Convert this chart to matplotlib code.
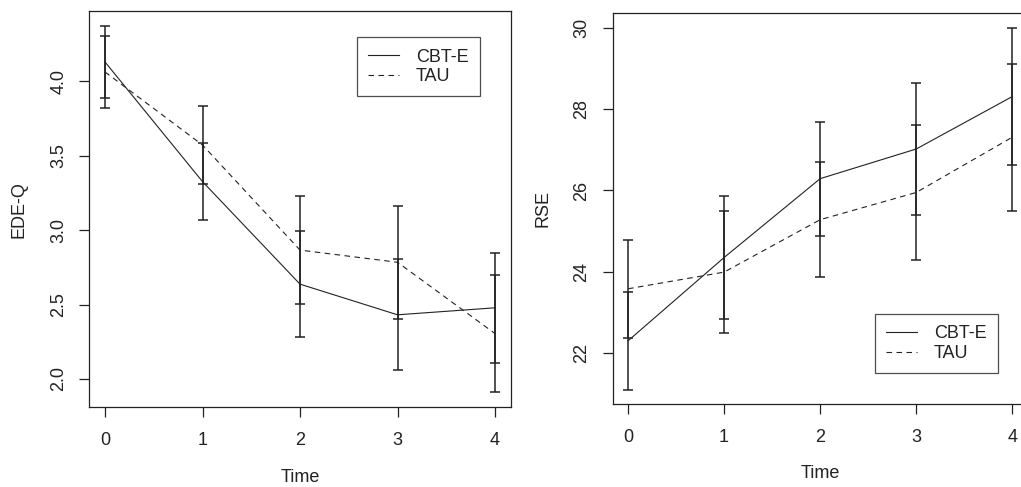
import matplotlib
matplotlib.use('Agg')
import matplotlib.pyplot as plt

plt.rcParams['font.family'] = ['Liberation Sans', 'DejaVu Sans']

time = [0, 1, 2, 3, 4]

# EDE-Q means and error half-widths
edeq_cbte = [4.130, 3.326, 2.637, 2.431, 2.478]
edeq_cbte_err = [0.243, 0.260, 0.355, 0.373, 0.368]
edeq_tau = [4.063, 3.572, 2.866, 2.784, 2.305]
edeq_tau_err = [0.240, 0.260, 0.364, 0.378, 0.396]

# RSE means and error half-widths
rse_cbte = [22.30, 24.35, 26.29, 27.02, 28.31]
rse_cbte_err = [1.20, 1.51, 1.40, 1.63, 1.69]
rse_tau = [23.58, 23.99, 25.28, 25.95, 27.31]
rse_tau_err = [1.21, 1.51, 1.42, 1.65, 1.81]

ink = '#222222'
fs = 13


def draw_panel(ax, cbte, cbte_err, tau, tau_err, ylabel, yticks, fmt):
    for m, e in [(cbte, cbte_err), (tau, tau_err)]:
        ax.errorbar(time, m, yerr=e, fmt='none', ecolor=ink, elinewidth=1.1,
                    capsize=3.8, capthick=1.1)
    ax.plot(time, cbte, color=ink, lw=0.8, label='CBT-E')
    ax.plot(time, tau, color=ink, lw=0.8, dashes=(5, 4), label='TAU')
    ax.margins(x=0.04, y=0.04)
    ax.set_xticks(time)
    ax.set_yticks(yticks)
    ax.set_yticklabels([fmt.format(v) for v in yticks], rotation=90, va='center')
    ax.tick_params(direction='out', length=7, width=0.9, color=ink,
                   labelsize=fs, labelcolor=ink)
    ax.tick_params(axis='x', pad=11)
    ax.tick_params(axis='y', pad=9)
    for s in ax.spines.values():
        s.set_color(ink)
        s.set_linewidth(0.9)
    ax.set_xlabel('Time', fontsize=fs, color=ink, labelpad=14)
    ax.set_ylabel(ylabel, fontsize=fs, color=ink, labelpad=16)


def add_legend(ax, loc, anchor):
    leg = ax.legend(loc=loc, bbox_to_anchor=anchor, borderaxespad=0,
                    fontsize=fs, frameon=True, fancybox=False, edgecolor=ink,
                    handlelength=1.7, handletextpad=0.95, borderpad=0.62,
                    labelspacing=0.15)
    leg.get_frame().set_linewidth(0.9)
    for t in leg.get_texts():
        t.set_color(ink)


fig = plt.figure(figsize=(10.21, 4.87), dpi=100)

ax1 = fig.add_axes([0.0876, 0.164, 0.4125, 0.813])
draw_panel(ax1, edeq_cbte, edeq_cbte_err, edeq_tau, edeq_tau_err, 'EDE-Q',
           [2.0, 2.5, 3.0, 3.5, 4.0], '{:.1f}')
add_legend(ax1, 'upper right', (0.927, 0.934))

ax2 = fig.add_axes([0.6001, 0.1704, 0.4064, 0.802])
draw_panel(ax2, rse_cbte, rse_cbte_err, rse_tau, rse_tau_err, 'RSE',
           [22, 24, 26, 28, 30], '{:d}')
add_legend(ax2, 'lower right', (0.928, 0.079))

fig.savefig('out.png', dpi=100)
